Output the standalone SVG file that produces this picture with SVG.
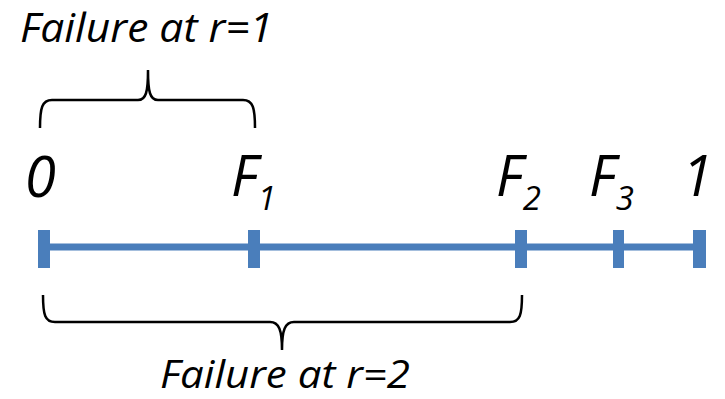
<svg xmlns="http://www.w3.org/2000/svg" width="725" height="399" viewBox="0 0 725 399">
<style>
text{font-family:"Open Sans","Liberation Sans",sans-serif;font-style:italic;fill:#000}
.cap{font-size:40px}
.cap2{font-size:38px}
.lab{font-size:56px}
.sub{font-size:33px}
.brace{fill:none;stroke:#000;stroke-width:2.5}
.axis{stroke:#4a7ebb;stroke-width:7}
.tick{fill:#4a7ebb}
</style>
<rect width="725" height="399" fill="#fff"/>
<g id="axis">
<line class="axis" x1="44" y1="247" x2="698" y2="247"/>
<rect class="tick" x="38" y="230" width="12" height="38"/>
<rect class="tick" x="248" y="230" width="12" height="38"/>
<rect class="tick" x="515" y="230" width="12" height="38"/>
<rect class="tick" x="613" y="230" width="11" height="38"/>
<rect class="tick" x="693" y="230" width="13" height="38"/>
</g>
<g id="labels">
<text class="lab" x="25" y="197">0</text>
<text class="lab" x="231" y="196">F<tspan class="sub" dy="14">1</tspan></text>
<text class="lab" x="496" y="196">F<tspan class="sub" dy="14">2</tspan></text>
<text class="lab" x="589" y="196">F<tspan class="sub" dy="14">3</tspan></text>
<text class="lab" x="682" y="196">1</text>
</g>
<g id="brace-top">
<path class="brace" d="M40,128 C40,108 42,100 52,100 L138,100 C146,100 148,92 148,70 C148,92 150,100 158,100 L243,100 C253,100 255,108 255,128"/>
<text class="cap" x="20" y="42" textLength="253" lengthAdjust="spacingAndGlyphs">Failure at r=1</text>
</g>
<g id="brace-bottom">
<path class="brace" d="M43,295 C43,315 45,322 55,322 L270,322 C279,322 282,330 282,350 C282,330 285,322 294,322 L510,322 C520,322 522,315 522,295"/>
<text class="cap2" x="160" y="388" textLength="250" lengthAdjust="spacingAndGlyphs">Failure at r=2</text>
</g>
</svg>
